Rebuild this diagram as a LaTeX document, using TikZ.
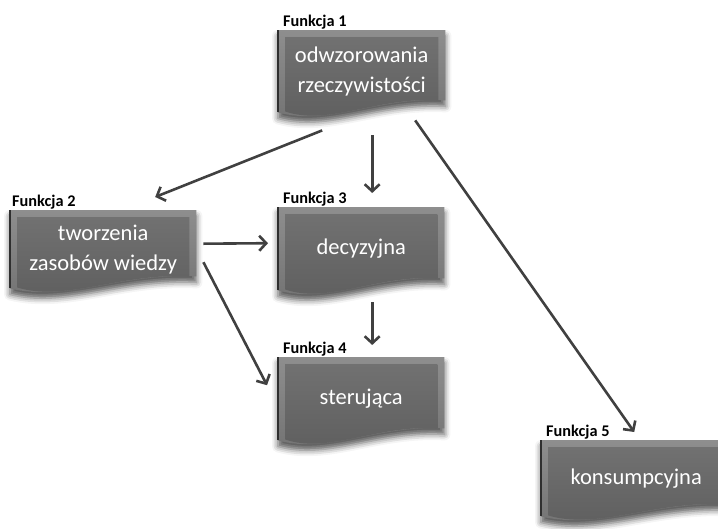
\documentclass[tikz,border=0pt]{standalone}
\usepackage{fontspec}
\setmainfont{Carlito}
\usetikzlibrary{arrows.meta,calc,shadows.blur}

\definecolor{bevelTop}{HTML}{8E8E8E}
\definecolor{bevelSide}{HTML}{727272}
\definecolor{faceTop}{HTML}{717171}
\definecolor{faceBot}{HTML}{5E5E5E}
\definecolor{edgeDark}{HTML}{2F2F2F}
\definecolor{arrowGray}{HTML}{404040}

\pgfdeclarelayer{background}
\pgfsetlayers{background,main}

\tikzset{
  docbox/.style={draw=none, inner sep=0pt, anchor=north west,
    text=white, font=\fontsize{22.5}{30}\selectfont, align=center},
  funlabel/.style={anchor=base west, inner sep=0pt,
    font=\fontsize{16.3}{19}\selectfont\bfseries},
  conn/.style={draw=arrowGray, line width=2.6pt,
    -{Straight Barb[length=7pt,width=15pt,line width=2.6pt]}},
}

% Document-shaped box (wavy bottom, bevelled face) behind a named node
\newcommand\drawdoc[1]{%
  \begin{pgfonlayer}{background}
  \path let \p1=(#1.north west), \p2=(#1.south east), \n1={\x2-\x1} in
    [blur shadow={shadow xshift=0pt, shadow yshift=-6pt,
                  shadow blur radius=6pt, shadow opacity=65}]
    [top color=bevelTop, bottom color=bevelSide]
    (\x1,\y1) -- (\x2,\y1) -- (\x2,{\y2+12pt})
      .. controls ({\x1+0.6*\n1},{\y2+16pt}) and ({\x1+0.3*\n1},{\y2-14pt})
      .. (\x1,\y2) -- cycle;
  \path let \p1=(#1.north west), \p2=(#1.south east), \n1={\x2-\x1} in
    [top color=faceTop, bottom color=faceBot]
    ({\x1+7pt},{\y1-7pt}) -- ({\x2-7pt},{\y1-7pt}) -- ({\x2-7pt},{\y2+12pt})
      .. controls ({\x1+0.6*\n1},{\y2+16pt}) and ({\x1+0.3*\n1},{\y2-14pt})
      .. ({\x1+7pt},{\y2+1pt}) -- cycle;
  \draw[edgeDark, line width=1.3pt] let \p1=(#1.north west), \p2=(#1.south east) in
    (\x1,\y1) -- (\x1,\y2);
  \end{pgfonlayer}}

\begin{document}
\begin{tikzpicture}[x=1pt, y=-1pt]
  \useasboundingbox (0,0) rectangle (718,528);
  \clip (0,0) rectangle (718,528);

  % boxes
  \node[docbox, minimum width=167pt, minimum height=82pt] (b1) at (278,30)
    {odwzorowania\\rzeczywistości};
  \node[docbox, minimum width=186pt, minimum height=78pt] (b2) at (10,210)
    {tworzenia\\zasobów wiedzy};
  \node[docbox, minimum width=166pt, minimum height=83pt] (b3) at (278,207)
    {decyzyjna};
  \node[docbox, minimum width=166pt, minimum height=83pt] (b4) at (278,357)
    {sterująca};
  \node[docbox, minimum width=190pt, minimum height=76pt] (b5) at (541,440)
    {konsumpcyjna};

  \drawdoc{b1}\drawdoc{b2}\drawdoc{b3}\drawdoc{b4}\drawdoc{b5}

  % captions above the boxes
  \node[funlabel] (l1) at ([xshift=5pt,yshift=4pt]b1.north west) {Funkcja 1};
  \node[funlabel] (l2) at ([xshift=2pt,yshift=4pt]b2.north west) {Funkcja 2};
  \node[funlabel] (l3) at ([xshift=5pt,yshift=4pt]b3.north west) {Funkcja 3};
  \node[funlabel] (l4) at ([xshift=5pt,yshift=4pt]b4.north west) {Funkcja 4};
  \node[funlabel] (l5) at ([xshift=5pt,yshift=4pt]b5.north west) {Funkcja 5};

  % connectors
  \draw[conn] ([xshift=-39.5pt,yshift=-18pt]b1.south) -- ([xshift=52pt,yshift=13pt]b2.north);
  \draw[conn] ([xshift=10.5pt,yshift=-23pt]b1.south) -- ([xshift=11pt,yshift=14pt]b3.north);
  \draw[conn] ([xshift=53.5pt,yshift=-8pt]b1.south) -- ([xshift=-2pt,yshift=8pt]b5.north);
  \draw[conn] ([xshift=7pt,yshift=5.5pt]b2.east) -- ([xshift=-10pt,yshift=5.5pt]b3.west);
  \draw[conn] ([xshift=7pt,yshift=-13pt]b2.east) -- ([xshift=-11pt,yshift=13.5pt]b4.west);
  \draw[conn] ([xshift=11pt,yshift=-12pt]b3.south) -- ([xshift=11pt,yshift=12pt]b4.north);
\end{tikzpicture}
\end{document}
